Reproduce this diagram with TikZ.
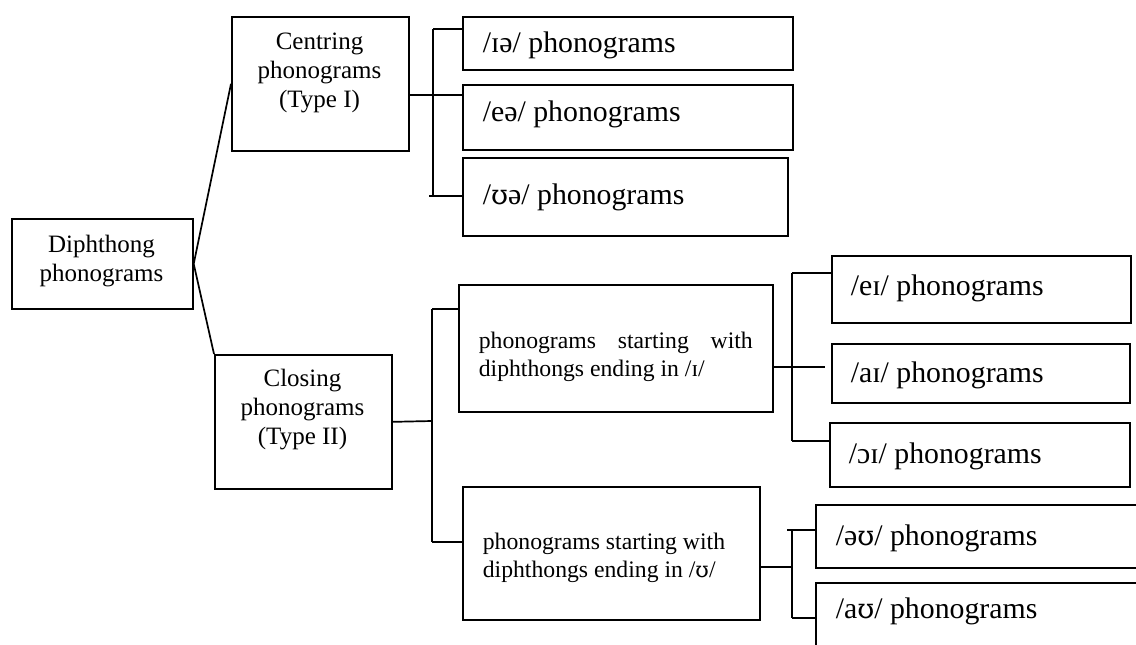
\documentclass[tikz,border=0pt]{standalone}
\usepackage{fontspec}
\setmainfont{Liberation Serif}
\newfontfamily\ipafont[Scale=0.92]{DejaVu Serif}
\newcommand{\ups}{{\ipafont ʊ}}
\usetikzlibrary{calc}

\begin{document}
\begin{tikzpicture}[x=1pt, y=-1pt, line width=1.7pt,
  box/.style={draw, rectangle, inner sep=0pt, anchor=north west},
  midtxt/.style={inner sep=0pt, align=center, font=\fontsize{25}{29}\selectfont},
  leaftxt/.style={inner sep=0pt, anchor=west, font=\fontsize{29.8}{34}\selectfont},
  subtxt/.style={inner sep=0pt, anchor=west, font=\fontsize{23.7}{28}\selectfont},
  link/.style={draw, line width=1.7pt}]

\useasboundingbox (0,0) rectangle (1136,645);
\clip (0,0) rectangle (1136,645);
\fill[white] (0,0) rectangle (1136,645);

% boxes
\node[box, minimum width=181pt, minimum height=90pt]  (d)  at (11,218)  {};
\node[box, minimum width=177pt, minimum height=134pt] (c1) at (231,16)  {};
\node[box, minimum width=177pt, minimum height=134pt] (c2) at (214,354) {};
\node[box, minimum width=330pt, minimum height=53pt]  (ia) at (462,16)  {};
\node[box, minimum width=330pt, minimum height=65pt]  (ea) at (462,84)  {};
\node[box, minimum width=325pt, minimum height=78pt]  (ua) at (462,157) {};
\node[box, minimum width=314pt, minimum height=127pt] (s1) at (458,284) {};
\node[box, minimum width=297pt, minimum height=133pt] (s2) at (462,486) {};
\node[box, minimum width=299pt, minimum height=67pt]  (ei) at (831,255) {};
\node[box, minimum width=298pt, minimum height=59pt]  (ai) at (831,343) {};
\node[box, minimum width=300pt, minimum height=64pt]  (oi) at (829,422) {};
\node[box, minimum width=340pt, minimum height=63pt]  (ou) at (815,504) {};
\node[box, minimum width=340pt, minimum height=100pt] (au) at (815,582) {};

% labels
\node[midtxt] (dT)  at (101.5,261) {Diphthong\\phonograms};
\node[midtxt] (c1T) at (319.5,73)  {Centring\\phonograms\\(Type I)};
\node[midtxt] (c2T) at (302.5,410) {Closing\\phonograms\\(Type II)};
\node[leaftxt] (iaT) at (482,45)  {/ɪə/ phonograms};
\node[leaftxt] (eaT) at (482,114) {/eə/ phonograms};
\node[leaftxt] (uaT) at (482,197) {/\ups ə/ phonograms};
\node[subtxt, text width=274pt, align=justify] (s1T) at (478,357)
  {phonograms starting with\linebreak diphthongs ending in /ɪ/};
\node[subtxt, align=left] (s2T) at (482,558)
  {phonograms starting with\\diphthongs ending in /\ups/};
\node[leaftxt] (eiT) at (850,288) {/eɪ/ phonograms};
\node[leaftxt] (aiT) at (850,375) {/aɪ/ phonograms};
\node[leaftxt] (oiT) at (848,456) {/ɔɪ/ phonograms};
\node[leaftxt] (ouT) at (835,538) {/ə\ups/ phonograms};
\node[leaftxt] (auT) at (835,611) {/a\ups/ phonograms};

% junction points of the bracket connectors
\coordinate (j1)  at (433,95);
\coordinate (j1t) at (433,29);
\coordinate (j1b) at (433,196);
\coordinate (j1x) at (429,196);
\coordinate (j2)  at (432,421);
\coordinate (j2t) at (432,309);
\coordinate (j2b) at (432,542);
\coordinate (j3)  at (792,367);
\coordinate (j3t) at (792,273);
\coordinate (j3b) at (792,441);
\coordinate (j3e) at (825,367);
\coordinate (j4)  at (792,567);
\coordinate (j4t) at (792,530);
\coordinate (j4x) at (787,530);
\coordinate (j4b) at (792,618);

% root to the two main groups
\path[link] (d.east) -- (c1.west);
\path[link] (d.east) -- (c2.north west);

% centring group
\path[link] (c1.east |- j1) -- (j1);
\path[link] (j1t) -- (j1b);
\path[link] (j1t) -- (ia.west |- j1t);
\path[link] (j1) -- (ea.west |- j1);
\path[link] (j1x) -- (ua.west |- j1x);

% closing group
\path[link] (c2.east) -- (j2);
\path[link] (j2t) -- (j2b);
\path[link] (j2t) -- (s1.west |- j2t);
\path[link] (j2b) -- (s2.west |- j2b);

% ending in /ɪ/
\path[link] (s1.east |- j3) -- (j3e);
\path[link] (j3t) -- (j3b);
\path[link] (j3t) -- (ei.west |- j3t);
\path[link] (j3b) -- (oi.west |- j3b);

% ending in /ʊ/
\path[link] (s2.east |- j4) -- (j4);
\path[link] (j4t) -- (j4b);
\path[link] (j4x) -- (ou.west |- j4x);
\path[link] (j4b) -- (au.west |- j4b);
\end{tikzpicture}
\end{document}
